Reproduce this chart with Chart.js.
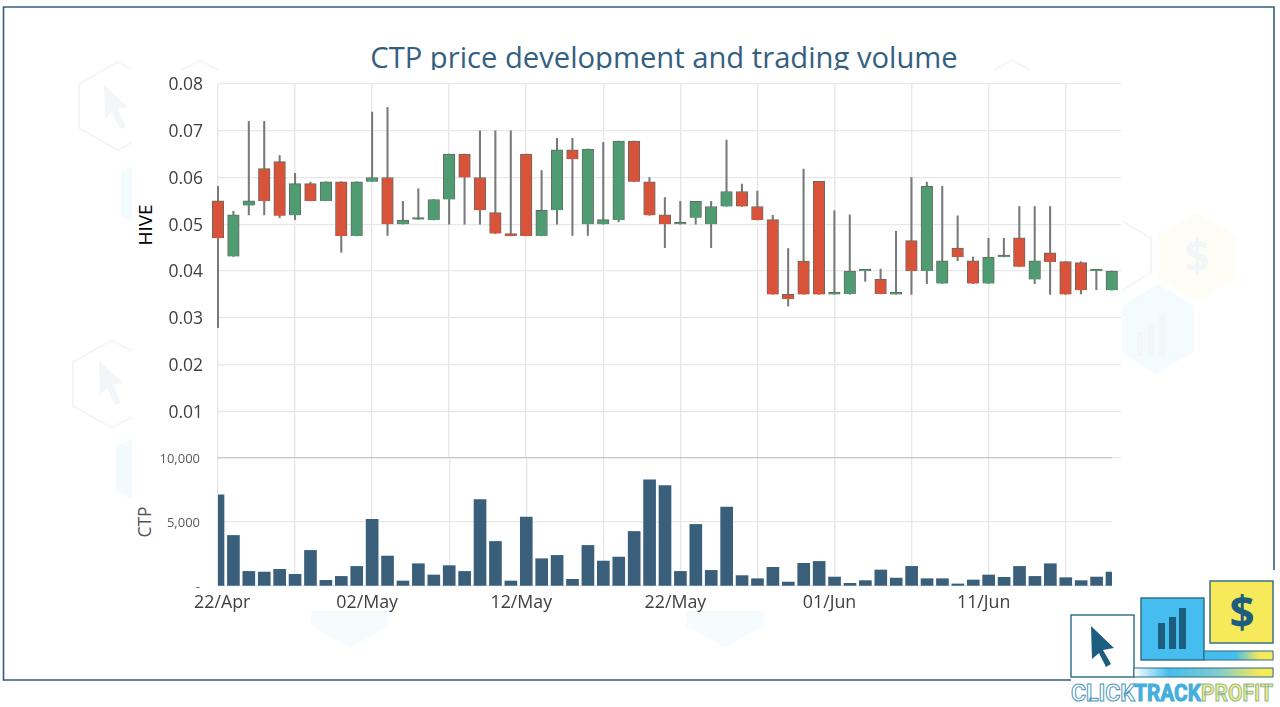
<!DOCTYPE html>
<html>
<head>
<meta charset="utf-8">
<title>CTP price development and trading volume</title>
<script src="https://cdn.jsdelivr.net/npm/chart.js@4"></script>
<style>
    html, body { margin: 0; padding: 0; background: #fff; overflow: hidden; }
    body { position: relative; width: 1280px; height: 707px; font-family: 'Open Sans', sans-serif; }
    canvas, svg { position: absolute; left: 0; top: 0; }
    #title {
        position: absolute; left: 0; top: 30px; width: 1328px; height: 40px; overflow: hidden;
        text-align: center; font-size: 29.2px; line-height: 54px; color: #34607f;
    }
    .axisName { position: absolute; transform: translate(-50%, -50%) rotate(-90deg); white-space: nowrap; }
</style>
</head>
<body>

<!-- фон: рамка и водяные знаки -->
<svg width="1280" height="707" viewBox="0 0 1280 707">
    <defs>
        <linearGradient id="strip1"><stop offset="0" stop-color="#45bdee"/><stop offset="0.45" stop-color="#45bdee"/><stop offset="0.8" stop-color="#f6e95a"/></linearGradient>
        <linearGradient id="strip2"><stop offset="0" stop-color="#ffffff"/><stop offset="0.25" stop-color="#45bdee"/><stop offset="0.6" stop-color="#7fcbd0"/><stop offset="0.9" stop-color="#f6e95a"/></linearGradient>
    </defs>

    <g opacity="0.05">
        <path d="M118 62 L157 84 L157 128 L118 150 L79 128 L79 84 Z" fill="none" stroke="#2c6a85" stroke-width="2"/>
        <path d="M104 85 L128 107 L118 109 L126 127 L120 129 L112 112 L105 118 Z" fill="#2c6a85"/>
        <path d="M160 150 L199 172 L199 216 L160 238 L121 216 L121 172 Z" fill="#45bdee"/>
        <path d="M112 340 L151 362 L151 406 L112 428 L73 406 L73 362 Z" fill="none" stroke="#2c6a85" stroke-width="2"/>
        <path d="M99 361 L123 383 L113 385 L121 403 L115 405 L107 388 L100 394 Z" fill="#2c6a85"/>
        <path d="M155 425 L194 447 L194 491 L155 513 L116 491 L116 447 Z" fill="#45bdee"/>
        <path d="M200 60 L239 82 L239 126 L161 126 L161 82 Z" fill="none" stroke="#2c6a85" stroke-width="2"/>
        <path d="M1012 60 L1051 82 L1051 126 L973 126 L973 82 Z" fill="none" stroke="#2c6a85" stroke-width="2"/>
        <path d="M1197 213 L1236 235 L1236 279 L1197 301 L1158 279 L1158 235 Z" fill="#f6e95a"/>
        <path d="M1158 284 L1194 306 L1194 352 L1155 374 L1122 352 L1122 306 Z" fill="#45bdee"/>
        <path d="M1120 220 L1151 238 L1151 272 L1120 292" fill="none" stroke="#2c6a85" stroke-width="2"/>
        <path d="M350 560 L389 582 L389 626 L350 648 L311 626 L311 582 Z" fill="#45bdee"/>
        <path d="M725 560 L764 582 L764 626 L725 648 L686 626 L686 582 Z" fill="#45bdee"/>
        <text x="1197" y="272" text-anchor="middle" font-family="'Open Sans'" font-weight="700" font-size="44" fill="#2c6a85">$</text>
        <rect x="1137" y="332" width="6" height="24" fill="#2c6a85"/>
        <rect x="1148" y="325" width="6" height="31" fill="#2c6a85"/>
        <rect x="1159" y="315" width="6" height="41" fill="#2c6a85"/>
    </g>

    <!-- белая подложка графика поверх водяных знаков -->
    <rect x="132" y="70" width="990" height="541" fill="#ffffff"/>

    <path d="M1071 680 L3.5 680 L3.5 7 L1274 7 L1274 570" fill="none" stroke="#2f5f7d" stroke-width="1.6"/>

    <!-- логотип -->
    <rect x="1071" y="615" width="63" height="62" fill="#ffffff" stroke="#2c6a85" stroke-width="1.4"/>
    <rect x="1134" y="668" width="139" height="9" fill="url(#strip2)" stroke="#2c6a85" stroke-width="1"/>
    <rect x="1141" y="598" width="63" height="62" fill="#45bdee" stroke="#2c6a85" stroke-width="1.4"/>
    <rect x="1204" y="651" width="69" height="9" fill="url(#strip1)" stroke="#2c6a85" stroke-width="1"/>
    <rect x="1210" y="581" width="63" height="62" fill="#f6e95a" stroke="#2c6a85" stroke-width="1.4"/>
    <path d="M1091 626 L1114 648 L1103 650 L1111 664 L1106 667 L1099 653 L1092 659 Z" fill="#1d5d7e"/>
    <rect x="1158" y="623" width="7" height="26" fill="#1d5d7e"/>
    <rect x="1169" y="617" width="7" height="32" fill="#1d5d7e"/>
    <rect x="1179" y="608" width="7" height="41" fill="#1d5d7e"/>
    <text x="1242" y="628" text-anchor="middle" font-family="'Open Sans'" font-weight="700" font-size="44" fill="#1d5d7e">$</text>
    <g font-family="'Roboto'" font-weight="700" font-size="23" stroke-width="1">
        <text x="1071" y="701" textLength="64" lengthAdjust="spacingAndGlyphs" fill="#ffffff" stroke="#4b97b8">CLICK</text>
        <text x="1134" y="701" textLength="67" lengthAdjust="spacingAndGlyphs" fill="#45aedb" stroke="#45aedb">TRACK</text>
        <text x="1201" y="701" textLength="72" lengthAdjust="spacingAndGlyphs" fill="#f3ea7a" stroke="#8fb9a0">PROFIT</text>
    </g>
</svg>

<div id="title">CTP price development and trading volume</div>
<div class="axisName" style="left:145px; top:225px; color:#000; font-size:19px;">HIVE</div>
<div class="axisName" style="left:144px; top:522px; color:#555; font-size:17.5px;">CTP</div>

<canvas id="priceChart" width="1280" height="707"></canvas>
<canvas id="volumeChart" width="1280" height="707"></canvas>

<script>
const dates = [
    '22/Apr', '23/Apr', '24/Apr', '25/Apr', '26/Apr', '27/Apr', '28/Apr', '29/Apr', '30/Apr',
    '01/May', '02/May', '03/May', '04/May', '05/May', '06/May', '07/May', '08/May', '09/May', '10/May', '11/May',
    '12/May', '13/May', '14/May', '15/May', '16/May', '17/May', '18/May', '19/May', '20/May', '21/May',
    '22/May', '23/May', '24/May', '25/May', '26/May', '27/May', '28/May', '29/May', '30/May', '31/May',
    '01/Jun', '02/Jun', '03/Jun', '04/Jun', '05/Jun', '06/Jun', '07/Jun', '08/Jun', '09/Jun', '10/Jun',
    '11/Jun', '12/Jun', '13/Jun', '14/Jun', '15/Jun', '16/Jun', '17/Jun', '18/Jun', '19/Jun'
];

const opens = [
    .055, .0431, .054, .0619, .0634, .0519, .0587, .055, .0591, .0475,
    .0591, .06, .05, .051, .0509, .0553, .065, .06, .0525, .048,
    .065, .0475, .053, .0659, .05, .05, .0509, .0678, .0591, .052,
    .05, .0514, .05, .0538, .057, .0538, .051, .035, .0421, .0592,
    .035, .0351, .04, .0382, .035, .0465, .04, .0373, .0449, .0422,
    .0373, .043, .0471, .0382, .0439, .042, .0418, .04, .0359
];
const closes = [
    .047, .052, .055, .055, .0518, .0587, .055, .0591, .0475, .0591,
    .06, .05, .0509, .0511, .0553, .065, .06, .053, .048, .0475,
    .0475, .053, .0659, .0639, .0661, .051, .0678, .0591, .0519, .05,
    .0501, .0549, .0538, .057, .0538, .0509, .035, .034, .035, .035,
    .0351, .04, .0403, .0351, .0351, .04, .0581, .0422, .043, .0373,
    .043, .0431, .0409, .0422, .0419, .035, .0359, .0401, .04
];
const highs = [
    .0581, .0528, .072, .072, .0647, .0609, .059, .0591, .0591, .0591,
    .074, .075, .0549, .0576, .0553, .065, .065, .07, .07, .07,
    .065, .0615, .0684, .0684, .0661, .0675, .0678, .0678, .06, .0557,
    .0549, .0549, .0549, .068, .0586, .0571, .0519, .0448, .0618, .0592,
    .0529, .052, .0403, .0404, .0485, .06, .059, .0581, .0518, .043,
    .047, .047, .0538, .0538, .0538, .042, .042, .0401, .04
];
const lows = [
    .0279, .0431, .052, .052, .0514, .051, .055, .055, .044, .0475,
    .0591, .0476, .05, .051, .0509, .05, .05, .05, .048, .0475,
    .0475, .0475, .05, .0476, .0476, .05, .0505, .0591, .0519, .045,
    .05, .05, .045, .0538, .0538, .0509, .035, .0325, .035, .035,
    .035, .035, .0378, .0351, .035, .035, .0373, .0373, .0422, .0373,
    .0373, .043, .0409, .0373, .035, .035, .0351, .036, .0359
];
const volumes = [
    7120, 3950, 1140, 1090, 1300, 910, 2780, 440, 750, 1530,
    5200, 2340, 390, 1740, 860, 1590, 1140, 6760, 3480, 390,
    5380, 2130, 2390, 520, 3170, 1950, 2260, 4260, 8290, 7850,
    1140, 4810, 1220, 6160, 810, 570, 1460, 310, 1770, 1920,
    700, 210, 420, 1250, 620, 1530, 570, 570, 160, 470,
    860, 680, 1530, 750, 1740, 650, 420, 700, 1090
];
const priceTicks = [0.08, 0.07, 0.06, 0.05, 0.04, 0.03, 0.02, 0.01];

const RED = '#d9533b';
const GREEN = '#4f9b72';
const GRID = '#e8e8e8';
const TICK_COLOR = '#404040';

function renderPriceChart() {
    const ctx = document.getElementById('priceChart').getContext('2d');

    new Chart(ctx, {
        type: 'bar',
        data: {
            datasets: [{
                // тело свечи
                data: dates.map((d, i) => ({ x: i, y: [opens[i], closes[i]] })),
                backgroundColor: dates.map((d, i) => closes[i] >= opens[i] ? GREEN : RED),
                borderColor: '#666b60',
                borderWidth: 1,
                barThickness: 11.6,
                minBarLength: 2,
                grouped: false,
                clip: false,
                order: 1
            }, {
                // тень свечи
                data: dates.map((d, i) => ({ x: i, y: [lows[i], highs[i]] })),
                backgroundColor: '#77797a',
                barThickness: 1.4,
                grouped: false,
                clip: false,
                order: 2
            }]
        },
        options: {
            responsive: false,
            animation: false,
            layout: { padding: { left: 137, top: 84, right: 159, bottom: 249 } },
            plugins: { legend: { display: false }, tooltip: { enabled: false } },
            scales: {
                x: {
                    type: 'linear',
                    offset: false,
                    min: 0,
                    max: 58.6,
                    border: { display: false },
                    grid: { offset: false, color: GRID, lineWidth: 1.4, drawTicks: false },
                    ticks: { display: false, stepSize: 5, includeBounds: false, autoSkip: false }
                },
                y: {
                    min: 0,
                    max: 0.08,
                    border: { display: false },
                    grid: { color: GRID, lineWidth: 1.2, drawTicks: false },
                    afterFit: scale => { scale.width = 81; },
                    ticks: {
                        stepSize: 0.01,
                        padding: 15,
                        labelOffset: 1.5,
                        color: TICK_COLOR,
                        font: { family: "'Open Sans'", size: 17.5 },
                        callback: value => priceTicks.some(t => Math.abs(t - value) < 1e-6) ? value.toFixed(2) : ''
                    }
                }
            }
        }
    });
}

function renderVolumeChart() {
    const ctx = document.getElementById('volumeChart').getContext('2d');

    new Chart(ctx, {
        type: 'bar',
        data: {
            datasets: [{
                data: dates.map((d, i) => ({ x: i, y: volumes[i] })),
                backgroundColor: '#3a5f7b',
                barThickness: 12
            }]
        },
        options: {
            responsive: false,
            animation: false,
            layout: { padding: { left: 137, top: 458, right: 168, bottom: 0 } },
            plugins: { legend: { display: false }, tooltip: { enabled: false } },
            scales: {
                x: {
                    type: 'linear',
                    offset: false,
                    min: 0,
                    max: 58,
                    border: { display: false },
                    grid: { offset: false, color: GRID, lineWidth: 1.4, drawTicks: false },
                    afterFit: scale => { scale.height = 121; },
                    ticks: {
                        stepSize: 5,
                        includeBounds: false,
                        autoSkip: false,
                        maxRotation: 0,
                        padding: 6,
                        labelOffset: -5,
                        color: TICK_COLOR,
                        font: { family: "'Open Sans'", size: 17.8 },
                        // первая подпись в оригинале сдвинута вправо
                        callback: value => value === 0 ? '    ' + dates[0] : value % 10 === 0 ? dates[value] : ''
                    }
                },
                y: {
                    min: 0,
                    max: 10000,
                    border: { display: false },
                    grid: {
                        color: ctx => ctx.tick && ctx.tick.value === 10000 ? '#c8c8c8' : GRID,
                        lineWidth: 1.2,
                        drawTicks: false
                    },
                    afterFit: scale => { scale.width = 81; },
                    ticks: {
                        stepSize: 5000,
                        padding: 18,
                        labelOffset: 1,
                        color: '#595959',
                        font: { family: "'Open Sans'", size: 13 },
                        callback: value => value === 0 ? '-' : value.toLocaleString('en-US')
                    }
                }
            }
        }
    });
}

renderPriceChart();
renderVolumeChart();
</script>
</body>
</html>
